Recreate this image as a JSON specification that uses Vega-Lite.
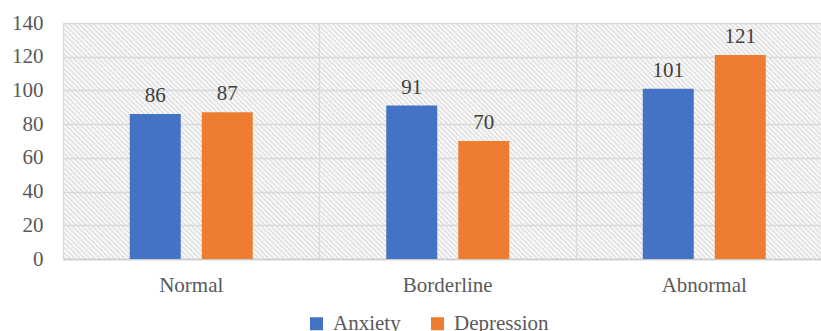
{
  "$schema": "https://vega.github.io/schema/vega-lite/v6.json",
  "width": 758,
  "height": 236,
  "autosize": "none",
  "padding": {"left": 63, "top": 23, "right": 0, "bottom": 72},
  "background": "white",
  "data": {"values": [
    {"category": "Normal", "measure": "Anxiety", "count": 86},
    {"category": "Normal", "measure": "Depression", "count": 87},
    {"category": "Borderline", "measure": "Anxiety", "count": 91},
    {"category": "Borderline", "measure": "Depression", "count": 70},
    {"category": "Abnormal", "measure": "Anxiety", "count": 101},
    {"category": "Abnormal", "measure": "Depression", "count": 121}
  ]},
  "encoding": {
    "x": {
      "field": "category", "type": "nominal",
      "sort": ["Normal", "Borderline", "Abnormal"],
      "scale": {"paddingInner": 0, "paddingOuter": 0, "range": [0, 769.5]},
      "axis": {
        "title": null, "labelAngle": 0, "bandPosition": 0,
        "grid": true, "gridColor": "#d9d9d9", "gridWidth": 1.3,
        "ticks": false, "tickSize": 0, "labelPadding": 15,
        "domainColor": "#cccccc", "domainWidth": 1.3,
        "labelFont": "Liberation Serif", "labelFontSize": 21, "labelColor": "#595959"
      }
    },
    "xOffset": {
      "field": "measure", "type": "nominal",
      "sort": ["Anxiety", "Depression"],
      "scale": {"paddingInner": 0.2917, "paddingOuter": 0.927}
    },
    "y": {
      "field": "count", "type": "quantitative",
      "scale": {"domain": [0, 140]},
      "axis": {
        "title": null, "values": [0, 20, 40, 60, 80, 100, 120, 140],
        "grid": true, "gridColor": "#d9d9d9", "gridWidth": 1.3,
        "domain": false, "ticks": false, "tickSize": 0, "labelPadding": 20,
        "labelFont": "Liberation Serif", "labelFontSize": 21, "labelColor": "#595959"
      }
    }
  },
  "layer": [
    {
      "mark": {"type": "bar"},
      "encoding": {
        "color": {
          "field": "measure", "type": "nominal",
          "sort": ["Anxiety", "Depression"],
          "scale": {"domain": ["Anxiety", "Depression"], "range": ["#4472C4", "#ED7D31"]},
          "legend": {
            "title": null, "orient": "none", "direction": "horizontal",
            "legendX": 243, "legendY": 290, "padding": 0,
            "symbolType": "square", "symbolSize": 169, "symbolStrokeWidth": 0,
            "labelOffset": 6, "columnPadding": 26,
            "labelFont": "Liberation Serif", "labelFontSize": 21, "labelColor": "#595959"
          }
        }
      }
    },
    {
      "mark": {"type": "text", "dy": -12, "baseline": "alphabetic", "font": "Liberation Serif", "fontSize": 21, "color": "#404040"},
      "encoding": {"text": {"field": "count", "type": "quantitative"}}
    }
  ],
  "config": {
    "font": "Liberation Serif",
    "view": {"stroke": null, "fill": {"gradient": "linear", "x1": 0, "y1": 1, "x2": 1.1955, "y2": 0.6278, "stops": [
{"offset":0,"color":"#fff"},{"offset":0.0025,"color":"#ddd"},{"offset":0.005,"color":"#fff"},{"offset":0.0075,"color":"#ddd"},
{"offset":0.01,"color":"#fff"},{"offset":0.0125,"color":"#ddd"},{"offset":0.015,"color":"#fff"},{"offset":0.0175,"color":"#ddd"},
{"offset":0.02,"color":"#fff"},{"offset":0.0225,"color":"#ddd"},{"offset":0.025,"color":"#fff"},{"offset":0.0275,"color":"#ddd"},
{"offset":0.03,"color":"#fff"},{"offset":0.0325,"color":"#ddd"},{"offset":0.035,"color":"#fff"},{"offset":0.0375,"color":"#ddd"},
{"offset":0.04,"color":"#fff"},{"offset":0.0425,"color":"#ddd"},{"offset":0.045,"color":"#fff"},{"offset":0.0475,"color":"#ddd"},
{"offset":0.05,"color":"#fff"},{"offset":0.0525,"color":"#ddd"},{"offset":0.055,"color":"#fff"},{"offset":0.0575,"color":"#ddd"},
{"offset":0.06,"color":"#fff"},{"offset":0.0625,"color":"#ddd"},{"offset":0.065,"color":"#fff"},{"offset":0.0675,"color":"#ddd"},
{"offset":0.07,"color":"#fff"},{"offset":0.0725,"color":"#ddd"},{"offset":0.075,"color":"#fff"},{"offset":0.0775,"color":"#ddd"},
{"offset":0.08,"color":"#fff"},{"offset":0.0825,"color":"#ddd"},{"offset":0.085,"color":"#fff"},{"offset":0.0875,"color":"#ddd"},
{"offset":0.09,"color":"#fff"},{"offset":0.0925,"color":"#ddd"},{"offset":0.095,"color":"#fff"},{"offset":0.0975,"color":"#ddd"},
{"offset":0.1,"color":"#fff"},{"offset":0.1025,"color":"#ddd"},{"offset":0.105,"color":"#fff"},{"offset":0.1075,"color":"#ddd"},
{"offset":0.11,"color":"#fff"},{"offset":0.1125,"color":"#ddd"},{"offset":0.115,"color":"#fff"},{"offset":0.1175,"color":"#ddd"},
{"offset":0.12,"color":"#fff"},{"offset":0.1225,"color":"#ddd"},{"offset":0.125,"color":"#fff"},{"offset":0.1275,"color":"#ddd"},
{"offset":0.13,"color":"#fff"},{"offset":0.1325,"color":"#ddd"},{"offset":0.135,"color":"#fff"},{"offset":0.1375,"color":"#ddd"},
{"offset":0.14,"color":"#fff"},{"offset":0.1425,"color":"#ddd"},{"offset":0.145,"color":"#fff"},{"offset":0.1475,"color":"#ddd"},
{"offset":0.15,"color":"#fff"},{"offset":0.1525,"color":"#ddd"},{"offset":0.155,"color":"#fff"},{"offset":0.1575,"color":"#ddd"},
{"offset":0.16,"color":"#fff"},{"offset":0.1625,"color":"#ddd"},{"offset":0.165,"color":"#fff"},{"offset":0.1675,"color":"#ddd"},
{"offset":0.17,"color":"#fff"},{"offset":0.1725,"color":"#ddd"},{"offset":0.175,"color":"#fff"},{"offset":0.1775,"color":"#ddd"},
{"offset":0.18,"color":"#fff"},{"offset":0.1825,"color":"#ddd"},{"offset":0.185,"color":"#fff"},{"offset":0.1875,"color":"#ddd"},
{"offset":0.19,"color":"#fff"},{"offset":0.1925,"color":"#ddd"},{"offset":0.195,"color":"#fff"},{"offset":0.1975,"color":"#ddd"},
{"offset":0.2,"color":"#fff"},{"offset":0.2025,"color":"#ddd"},{"offset":0.205,"color":"#fff"},{"offset":0.2075,"color":"#ddd"},
{"offset":0.21,"color":"#fff"},{"offset":0.2125,"color":"#ddd"},{"offset":0.215,"color":"#fff"},{"offset":0.2175,"color":"#ddd"},
{"offset":0.22,"color":"#fff"},{"offset":0.2225,"color":"#ddd"},{"offset":0.225,"color":"#fff"},{"offset":0.2275,"color":"#ddd"},
{"offset":0.23,"color":"#fff"},{"offset":0.2325,"color":"#ddd"},{"offset":0.235,"color":"#fff"},{"offset":0.2375,"color":"#ddd"},
{"offset":0.24,"color":"#fff"},{"offset":0.2425,"color":"#ddd"},{"offset":0.245,"color":"#fff"},{"offset":0.2475,"color":"#ddd"},
{"offset":0.25,"color":"#fff"},{"offset":0.2525,"color":"#ddd"},{"offset":0.255,"color":"#fff"},{"offset":0.2575,"color":"#ddd"},
{"offset":0.26,"color":"#fff"},{"offset":0.2625,"color":"#ddd"},{"offset":0.265,"color":"#fff"},{"offset":0.2675,"color":"#ddd"},
{"offset":0.27,"color":"#fff"},{"offset":0.2725,"color":"#ddd"},{"offset":0.275,"color":"#fff"},{"offset":0.2775,"color":"#ddd"},
{"offset":0.28,"color":"#fff"},{"offset":0.2825,"color":"#ddd"},{"offset":0.285,"color":"#fff"},{"offset":0.2875,"color":"#ddd"},
{"offset":0.29,"color":"#fff"},{"offset":0.2925,"color":"#ddd"},{"offset":0.295,"color":"#fff"},{"offset":0.2975,"color":"#ddd"},
{"offset":0.3,"color":"#fff"},{"offset":0.3025,"color":"#ddd"},{"offset":0.305,"color":"#fff"},{"offset":0.3075,"color":"#ddd"},
{"offset":0.31,"color":"#fff"},{"offset":0.3125,"color":"#ddd"},{"offset":0.315,"color":"#fff"},{"offset":0.3175,"color":"#ddd"},
{"offset":0.32,"color":"#fff"},{"offset":0.3225,"color":"#ddd"},{"offset":0.325,"color":"#fff"},{"offset":0.3275,"color":"#ddd"},
{"offset":0.33,"color":"#fff"},{"offset":0.3325,"color":"#ddd"},{"offset":0.335,"color":"#fff"},{"offset":0.3375,"color":"#ddd"},
{"offset":0.34,"color":"#fff"},{"offset":0.3425,"color":"#ddd"},{"offset":0.345,"color":"#fff"},{"offset":0.3475,"color":"#ddd"},
{"offset":0.35,"color":"#fff"},{"offset":0.3525,"color":"#ddd"},{"offset":0.355,"color":"#fff"},{"offset":0.3575,"color":"#ddd"},
{"offset":0.36,"color":"#fff"},{"offset":0.3625,"color":"#ddd"},{"offset":0.365,"color":"#fff"},{"offset":0.3675,"color":"#ddd"},
{"offset":0.37,"color":"#fff"},{"offset":0.3725,"color":"#ddd"},{"offset":0.375,"color":"#fff"},{"offset":0.3775,"color":"#ddd"},
{"offset":0.38,"color":"#fff"},{"offset":0.3825,"color":"#ddd"},{"offset":0.385,"color":"#fff"},{"offset":0.3875,"color":"#ddd"},
{"offset":0.39,"color":"#fff"},{"offset":0.3925,"color":"#ddd"},{"offset":0.395,"color":"#fff"},{"offset":0.3975,"color":"#ddd"},
{"offset":0.4,"color":"#fff"},{"offset":0.4025,"color":"#ddd"},{"offset":0.405,"color":"#fff"},{"offset":0.4075,"color":"#ddd"},
{"offset":0.41,"color":"#fff"},{"offset":0.4125,"color":"#ddd"},{"offset":0.415,"color":"#fff"},{"offset":0.4175,"color":"#ddd"},
{"offset":0.42,"color":"#fff"},{"offset":0.4225,"color":"#ddd"},{"offset":0.425,"color":"#fff"},{"offset":0.4275,"color":"#ddd"},
{"offset":0.43,"color":"#fff"},{"offset":0.4325,"color":"#ddd"},{"offset":0.435,"color":"#fff"},{"offset":0.4375,"color":"#ddd"},
{"offset":0.44,"color":"#fff"},{"offset":0.4425,"color":"#ddd"},{"offset":0.445,"color":"#fff"},{"offset":0.4475,"color":"#ddd"},
{"offset":0.45,"color":"#fff"},{"offset":0.4525,"color":"#ddd"},{"offset":0.455,"color":"#fff"},{"offset":0.4575,"color":"#ddd"},
{"offset":0.46,"color":"#fff"},{"offset":0.4625,"color":"#ddd"},{"offset":0.465,"color":"#fff"},{"offset":0.4675,"color":"#ddd"},
{"offset":0.47,"color":"#fff"},{"offset":0.4725,"color":"#ddd"},{"offset":0.475,"color":"#fff"},{"offset":0.4775,"color":"#ddd"},
{"offset":0.48,"color":"#fff"},{"offset":0.4825,"color":"#ddd"},{"offset":0.485,"color":"#fff"},{"offset":0.4875,"color":"#ddd"},
{"offset":0.49,"color":"#fff"},{"offset":0.4925,"color":"#ddd"},{"offset":0.495,"color":"#fff"},{"offset":0.4975,"color":"#ddd"},
{"offset":0.5,"color":"#fff"},{"offset":0.5025,"color":"#ddd"},{"offset":0.505,"color":"#fff"},{"offset":0.5075,"color":"#ddd"},
{"offset":0.51,"color":"#fff"},{"offset":0.5125,"color":"#ddd"},{"offset":0.515,"color":"#fff"},{"offset":0.5175,"color":"#ddd"},
{"offset":0.52,"color":"#fff"},{"offset":0.5225,"color":"#ddd"},{"offset":0.525,"color":"#fff"},{"offset":0.5275,"color":"#ddd"},
{"offset":0.53,"color":"#fff"},{"offset":0.5325,"color":"#ddd"},{"offset":0.535,"color":"#fff"},{"offset":0.5375,"color":"#ddd"},
{"offset":0.54,"color":"#fff"},{"offset":0.5425,"color":"#ddd"},{"offset":0.545,"color":"#fff"},{"offset":0.5475,"color":"#ddd"},
{"offset":0.55,"color":"#fff"},{"offset":0.5525,"color":"#ddd"},{"offset":0.555,"color":"#fff"},{"offset":0.5575,"color":"#ddd"},
{"offset":0.56,"color":"#fff"},{"offset":0.5625,"color":"#ddd"},{"offset":0.565,"color":"#fff"},{"offset":0.5675,"color":"#ddd"},
{"offset":0.57,"color":"#fff"},{"offset":0.5725,"color":"#ddd"},{"offset":0.575,"color":"#fff"},{"offset":0.5775,"color":"#ddd"},
{"offset":0.58,"color":"#fff"},{"offset":0.5825,"color":"#ddd"},{"offset":0.585,"color":"#fff"},{"offset":0.5875,"color":"#ddd"},
{"offset":0.59,"color":"#fff"},{"offset":0.5925,"color":"#ddd"},{"offset":0.595,"color":"#fff"},{"offset":0.5975,"color":"#ddd"},
{"offset":0.6,"color":"#fff"},{"offset":0.6025,"color":"#ddd"},{"offset":0.605,"color":"#fff"},{"offset":0.6075,"color":"#ddd"},
{"offset":0.61,"color":"#fff"},{"offset":0.6125,"color":"#ddd"},{"offset":0.615,"color":"#fff"},{"offset":0.6175,"color":"#ddd"},
{"offset":0.62,"color":"#fff"},{"offset":0.6225,"color":"#ddd"},{"offset":0.625,"color":"#fff"},{"offset":0.6275,"color":"#ddd"},
{"offset":0.63,"color":"#fff"},{"offset":0.6325,"color":"#ddd"},{"offset":0.635,"color":"#fff"},{"offset":0.6375,"color":"#ddd"},
{"offset":0.64,"color":"#fff"},{"offset":0.6425,"color":"#ddd"},{"offset":0.645,"color":"#fff"},{"offset":0.6475,"color":"#ddd"},
{"offset":0.65,"color":"#fff"},{"offset":0.6525,"color":"#ddd"},{"offset":0.655,"color":"#fff"},{"offset":0.6575,"color":"#ddd"},
{"offset":0.66,"color":"#fff"},{"offset":0.6625,"color":"#ddd"},{"offset":0.665,"color":"#fff"},{"offset":0.6675,"color":"#ddd"},
{"offset":0.67,"color":"#fff"},{"offset":0.6725,"color":"#ddd"},{"offset":0.675,"color":"#fff"},{"offset":0.6775,"color":"#ddd"},
{"offset":0.68,"color":"#fff"},{"offset":0.6825,"color":"#ddd"},{"offset":0.685,"color":"#fff"},{"offset":0.6875,"color":"#ddd"},
{"offset":0.69,"color":"#fff"},{"offset":0.6925,"color":"#ddd"},{"offset":0.695,"color":"#fff"},{"offset":0.6975,"color":"#ddd"},
{"offset":0.7,"color":"#fff"},{"offset":0.7025,"color":"#ddd"},{"offset":0.705,"color":"#fff"},{"offset":0.7075,"color":"#ddd"},
{"offset":0.71,"color":"#fff"},{"offset":0.7125,"color":"#ddd"},{"offset":0.715,"color":"#fff"},{"offset":0.7175,"color":"#ddd"},
{"offset":0.72,"color":"#fff"},{"offset":0.7225,"color":"#ddd"},{"offset":0.725,"color":"#fff"},{"offset":0.7275,"color":"#ddd"},
{"offset":0.73,"color":"#fff"},{"offset":0.7325,"color":"#ddd"},{"offset":0.735,"color":"#fff"},{"offset":0.7375,"color":"#ddd"},
{"offset":0.74,"color":"#fff"},{"offset":0.7425,"color":"#ddd"},{"offset":0.745,"color":"#fff"},{"offset":0.7475,"color":"#ddd"},
{"offset":0.75,"color":"#fff"},{"offset":0.7525,"color":"#ddd"},{"offset":0.755,"color":"#fff"},{"offset":0.7575,"color":"#ddd"},
{"offset":0.76,"color":"#fff"},{"offset":0.7625,"color":"#ddd"},{"offset":0.765,"color":"#fff"},{"offset":0.7675,"color":"#ddd"},
{"offset":0.77,"color":"#fff"},{"offset":0.7725,"color":"#ddd"},{"offset":0.775,"color":"#fff"},{"offset":0.7775,"color":"#ddd"},
{"offset":0.78,"color":"#fff"},{"offset":0.7825,"color":"#ddd"},{"offset":0.785,"color":"#fff"},{"offset":0.7875,"color":"#ddd"},
{"offset":0.79,"color":"#fff"},{"offset":0.7925,"color":"#ddd"},{"offset":0.795,"color":"#fff"},{"offset":0.7975,"color":"#ddd"},
{"offset":0.8,"color":"#fff"},{"offset":0.8025,"color":"#ddd"},{"offset":0.805,"color":"#fff"},{"offset":0.8075,"color":"#ddd"},
{"offset":0.81,"color":"#fff"},{"offset":0.8125,"color":"#ddd"},{"offset":0.815,"color":"#fff"},{"offset":0.8175,"color":"#ddd"},
{"offset":0.82,"color":"#fff"},{"offset":0.8225,"color":"#ddd"},{"offset":0.825,"color":"#fff"},{"offset":0.8275,"color":"#ddd"},
{"offset":0.83,"color":"#fff"},{"offset":0.8325,"color":"#ddd"},{"offset":0.835,"color":"#fff"},{"offset":0.8375,"color":"#ddd"},
{"offset":0.84,"color":"#fff"},{"offset":0.8425,"color":"#ddd"},{"offset":0.845,"color":"#fff"},{"offset":0.8475,"color":"#ddd"},
{"offset":0.85,"color":"#fff"},{"offset":0.8525,"color":"#ddd"},{"offset":0.855,"color":"#fff"},{"offset":0.8575,"color":"#ddd"},
{"offset":0.86,"color":"#fff"},{"offset":0.8625,"color":"#ddd"},{"offset":0.865,"color":"#fff"},{"offset":0.8675,"color":"#ddd"},
{"offset":0.87,"color":"#fff"},{"offset":0.8725,"color":"#ddd"},{"offset":0.875,"color":"#fff"},{"offset":0.8775,"color":"#ddd"},
{"offset":0.88,"color":"#fff"},{"offset":0.8825,"color":"#ddd"},{"offset":0.885,"color":"#fff"},{"offset":0.8875,"color":"#ddd"},
{"offset":0.89,"color":"#fff"},{"offset":0.8925,"color":"#ddd"},{"offset":0.895,"color":"#fff"},{"offset":0.8975,"color":"#ddd"},
{"offset":0.9,"color":"#fff"},{"offset":0.9025,"color":"#ddd"},{"offset":0.905,"color":"#fff"},{"offset":0.9075,"color":"#ddd"},
{"offset":0.91,"color":"#fff"},{"offset":0.9125,"color":"#ddd"},{"offset":0.915,"color":"#fff"},{"offset":0.9175,"color":"#ddd"},
{"offset":0.92,"color":"#fff"},{"offset":0.9225,"color":"#ddd"},{"offset":0.925,"color":"#fff"},{"offset":0.9275,"color":"#ddd"},
{"offset":0.93,"color":"#fff"},{"offset":0.9325,"color":"#ddd"},{"offset":0.935,"color":"#fff"},{"offset":0.9375,"color":"#ddd"},
{"offset":0.94,"color":"#fff"},{"offset":0.9425,"color":"#ddd"},{"offset":0.945,"color":"#fff"},{"offset":0.9475,"color":"#ddd"},
{"offset":0.95,"color":"#fff"},{"offset":0.9525,"color":"#ddd"},{"offset":0.955,"color":"#fff"},{"offset":0.9575,"color":"#ddd"},
{"offset":0.96,"color":"#fff"},{"offset":0.9625,"color":"#ddd"},{"offset":0.965,"color":"#fff"},{"offset":0.9675,"color":"#ddd"},
{"offset":0.97,"color":"#fff"},{"offset":0.9725,"color":"#ddd"},{"offset":0.975,"color":"#fff"},{"offset":0.9775,"color":"#ddd"},
{"offset":0.98,"color":"#fff"},{"offset":0.9825,"color":"#ddd"},{"offset":0.985,"color":"#fff"},{"offset":0.9875,"color":"#ddd"},
{"offset":0.99,"color":"#fff"},{"offset":0.9925,"color":"#ddd"},{"offset":0.995,"color":"#fff"},{"offset":0.9975,"color":"#ddd"},
{"offset":1,"color":"#fff"}
    ]}}
  }
}
